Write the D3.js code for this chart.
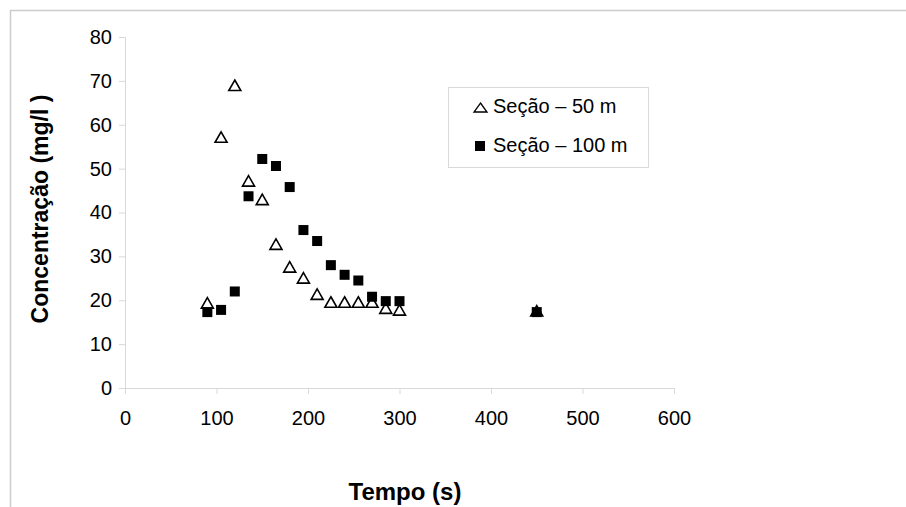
<!DOCTYPE html>
<html>
<head>
<meta charset="utf-8">
<script src="https://cdn.jsdelivr.net/npm/d3@7"></script>
<style>
  html, body { margin: 0; padding: 0; background: #fff; }
  svg { display: block; font-family: "Liberation Sans", Arial, sans-serif; }
</style>
</head>
<body>
<svg id="chart" width="906" height="507"></svg>
<script>
// Sampling times (s) for both sections
const tempos = [90, 105, 120, 135, 150, 165, 180, 195, 210, 225, 240, 255, 270, 285, 300, 450];
// Concentration (mg/l) measured at each section
const secao50 = [19.4, 57.2, 69, 47.2, 43, 32.8, 27.6, 25.1, 21.4, 19.6, 19.6, 19.6, 19.6, 18.2, 17.8, 17.6];
const secao100 = [17.3, 17.8, 22, 43.7, 52.2, 50.6, 45.8, 36, 33.5, 28, 25.8, 24.5, 20.8, 19.8, 19.8, 17.3];
const xTicks = [0, 100, 200, 300, 400, 500, 600];
const yTicks = [0, 10, 20, 30, 40, 50, 60, 70, 80];
const serieNomes = ["Seção – 50 m", "Seção – 100 m"];

const svg = d3.select("#chart");
const axisColor = "#d9d9d9";

// Outer chart frame (top and left edges)
svg.append("path")
  .attr("d", "M10.5,507 V10.5 H906")
  .attr("fill", "none")
  .attr("stroke", "#cccccc")
  .attr("stroke-width", 1.5);

const x = d3.scaleLinear().domain([0, 600]).range([125, 674]);
const y = d3.scaleLinear().domain([0, 80]).range([388, 37]);

// X axis
const gx = svg.append("g")
  .attr("transform", `translate(0,${y(0)})`)
  .call(d3.axisBottom(x).tickValues(xTicks).tickSize(6).tickPadding(17).tickFormat(d3.format("d")));
gx.select(".domain").attr("stroke", axisColor);
gx.selectAll(".tick line").attr("stroke", axisColor);
gx.selectAll(".tick text")
  .attr("font-size", 20)
  .attr("fill", "#000")
  .attr("font-family", "Liberation Sans, Arial, sans-serif");

// Y axis
const gy = svg.append("g")
  .attr("transform", `translate(${x(0)},0)`)
  .call(d3.axisLeft(y).tickValues(yTicks).tickSize(6).tickPadding(7).tickFormat(d3.format("d")));
gy.select(".domain").attr("stroke", axisColor);
gy.selectAll(".tick line").attr("stroke", axisColor);
gy.selectAll(".tick text")
  .attr("font-size", 20)
  .attr("fill", "#000")
  .attr("font-family", "Liberation Sans, Arial, sans-serif");

// Axis titles
svg.append("text")
  .attr("x", 405).attr("y", 500)
  .attr("text-anchor", "middle")
  .attr("font-size", 24).attr("font-weight", "bold")
  .text("Tempo (s)");

svg.append("text")
  .attr("transform", "translate(40,209) rotate(-90)")
  .attr("text-anchor", "middle")
  .attr("dominant-baseline", "central")
  .attr("font-size", 23).attr("font-weight", "bold")
  .text("Concentração (mg/l )");

// Markers
const triPath = (w, h) => `M0,${-h / 2} L${w / 2},${h / 2} L${-w / 2},${h / 2} Z`;

const pts50 = tempos.map((t, i) => ({ t, v: secao50[i] }));
const pts100 = tempos.map((t, i) => ({ t, v: secao100[i] }));

svg.append("g").selectAll("path")
  .data(pts50).join("path")
  .attr("transform", d => `translate(${x(d.t)},${y(d.v)})`)
  .attr("d", triPath(12, 10.5))
  .attr("fill", "#fff")
  .attr("stroke", "#000")
  .attr("stroke-width", 1.6)
  .attr("stroke-linejoin", "miter");

svg.append("g").selectAll("rect")
  .data(pts100).join("rect")
  .attr("x", d => x(d.t) - 5)
  .attr("y", d => y(d.v) - 5)
  .attr("width", 10)
  .attr("height", 10)
  .attr("fill", "#000");

// Legend
const lg = svg.append("g");
lg.append("rect")
  .attr("x", 448.5).attr("y", 87.5)
  .attr("width", 200).attr("height", 80)
  .attr("fill", "#fff")
  .attr("stroke", axisColor);

lg.append("path")
  .attr("transform", "translate(480.5,107.5)")
  .attr("d", triPath(13, 9))
  .attr("fill", "#fff")
  .attr("stroke", "#000")
  .attr("stroke-width", 1.3);
lg.append("rect")
  .attr("x", 475).attr("y", 141).attr("width", 10).attr("height", 10)
  .attr("fill", "#000");

lg.selectAll("text.lbl")
  .data(serieNomes).join("text")
  .attr("class", "lbl")
  .attr("x", 493)
  .attr("y", (d, i) => 113 + i * 39)
  .attr("font-size", 20)
  .attr("fill", "#000")
  .text(d => d);
</script>
</body>
</html>
